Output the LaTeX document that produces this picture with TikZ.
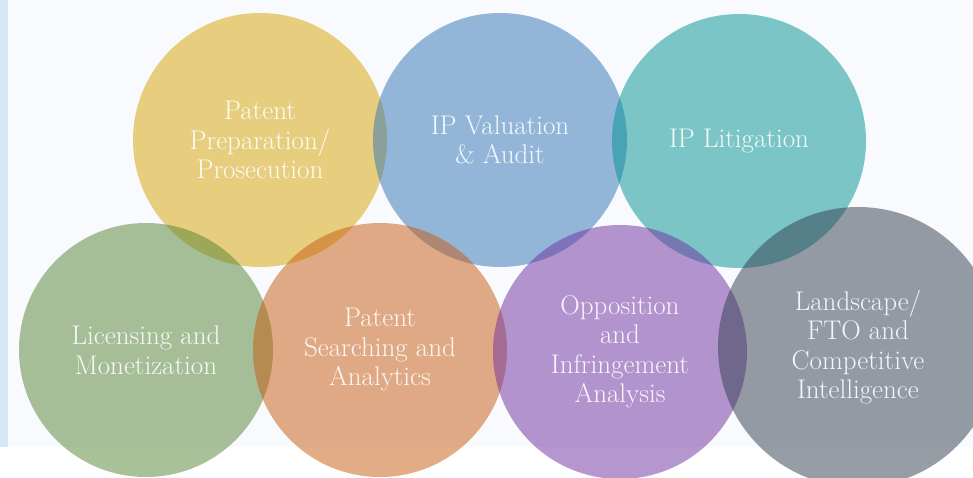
\documentclass[tikz,border=0pt]{standalone}

\definecolor{panelBg}{RGB}{249,250,253}
\definecolor{panelEdge}{RGB}{215,230,243}
\definecolor{capYellow}{RGB}{215,164,0}
\definecolor{capBlue}{RGB}{47,116,181}
\definecolor{capTeal}{RGB}{0,146,147}
\definecolor{capGreen}{RGB}{83,132,51}
\definecolor{capOrange}{RGB}{199,90,15}
\definecolor{capPurple}{RGB}{111,46,159}
\definecolor{capGray}{RGB}{47,60,77}

\tikzset{
  bubble/.style={circle, fill=#1, fill opacity=0.5, draw=none,
    minimum size=254pt, inner sep=0pt},
  bubbletext/.style={text=white, text opacity=0.9, align=center,
    font=\fontsize{27}{29.5}\selectfont},
}

\begin{document}
\begin{tikzpicture}[x=1pt, y=-1pt]

% Page and background panel
\useasboundingbox (0,0) rectangle (973,478);
\fill[white] (0,0) rectangle (973,478);
\fill[panelBg] (8,0) rectangle (973,447);
\fill[panelEdge] (0,0) rectangle (8,447);

% Circles, drawn left to right, top row first
\foreach \nm/\cx/\cy/\col in {yel/260/140/capYellow, blu/500/140/capBlue,
    tea/739/141/capTeal, gre/146/350/capGreen, ora/380/350/capOrange,
    pur/620/352/capPurple} {
    \node[bubble=\col] (\nm) at (\cx,\cy) {};
}
\node[bubble=capGray, minimum size=280pt] (gra) at (858,347) {};

% Labels
\node[bubbletext] (yelT) at (yel) {Patent\\Preparation/\\Prosecution};
\node[bubbletext] (bluT) at (blu) {IP Valuation\\\& Audit};
\node[bubbletext] (teaT) at (tea) {IP Litigation};
\node[bubbletext] (greT) at (gre) {Licensing and\\Monetization};
\node[bubbletext] (oraT) at (ora) {Patent\\Searching and\\Analytics};
\node[bubbletext] (purT) at (pur) {Opposition\\and\\Infringement\\Analysis};
\node[bubbletext] (graT) at (gra) {Landscape/\\FTO and\\Competitive\\Intelligence};

\end{tikzpicture}
\end{document}
